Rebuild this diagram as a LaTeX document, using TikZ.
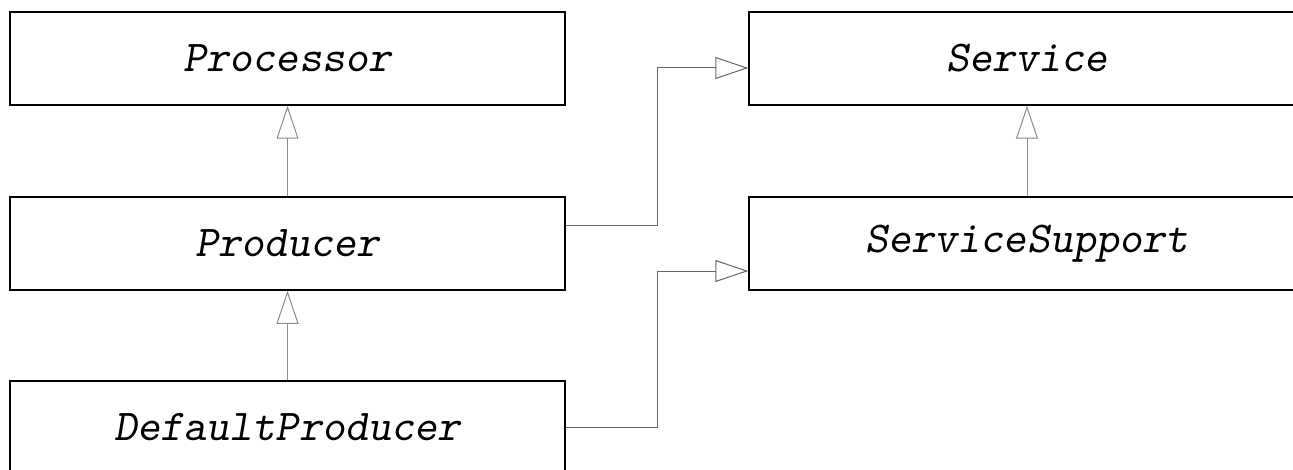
\documentclass[tikz,border=0pt]{standalone}
\usepackage{fontspec}
\usetikzlibrary{arrows.meta}

\begin{document}
\begin{tikzpicture}[x=0.5pt, y=-0.5pt,
  class/.style={draw, line width=0.75pt, minimum width=277.5pt, minimum height=46.5pt,
    font=\fontsize{22}{26}\selectfont\ttfamily\slshape},
  inherit/.style={draw=black!45, line width=0.5pt,
    -{Triangle[open, length=16.5pt, width=11pt, fill=white]}},
  realize/.style={draw=black!60, line width=0.5pt,
    -{Triangle[open, length=16.5pt, width=11pt, fill=white]}}]
\useasboundingbox (0,0) rectangle (1293,470);
\clip (0,0) rectangle (1293,470);

\node[class] (proc) at (287.5,58.5) {Processor};
\node[class] (prod) at (287.5,243.5) {Producer};
\node[class] (defprod) at (287.5,427.5) {DefaultProducer};

\node[class, minimum width=278pt] (svc) at (1027,58.5) {Service};
\node[class, minimum width=278pt] (svcsup) at (1027,243.5) {ServiceSupport};

\draw[inherit] (prod) -- (proc);
\draw[inherit] (defprod) -- (prod);
\draw[inherit] (svcsup) -- (svc);

\coordinate (bend) at (657,0);
\coordinate (svcin) at ([yshift=-4.75pt]svc.west);
\coordinate (supin) at ([yshift=-13.75pt]svcsup.west);
\draw[realize] ([yshift=9.25pt]prod.east) -| (bend |- svcin) -- (svcin);
\draw[realize] (defprod.east) -| (bend |- supin) -- (supin);
\end{tikzpicture}
\end{document}
